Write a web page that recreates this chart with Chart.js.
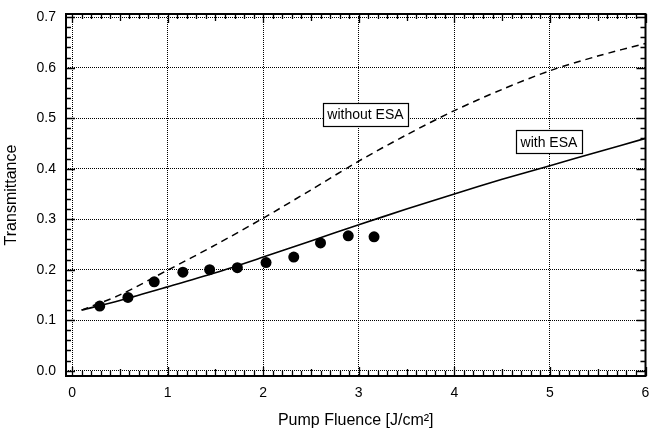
<!DOCTYPE html>
<html>
<head>
<meta charset="utf-8">
<script src="https://cdn.jsdelivr.net/npm/chart.js@4/dist/chart.umd.min.js"></script>
<style>
  html, body { margin: 0; padding: 0; background: #fff; }
  #wrap { width: 651px; height: 433px; }
</style>
</head>
<body>
<div id="wrap"><canvas id="fluenceChart" width="651" height="433"></canvas></div>
<script>
// measured transmittance
var measFluence = [0.29, 0.585, 0.86, 1.16, 1.44, 1.73, 2.03, 2.32, 2.60, 2.89, 3.16];
var measTrans = [0.128, 0.145, 0.176, 0.195, 0.200, 0.204, 0.214, 0.225, 0.253, 0.267, 0.265];

// model curves
var modelFluence = [0.1, 0.5, 1.0, 1.5, 2.0, 2.5, 3.0, 3.5, 4.0, 4.5, 5.0, 5.5, 6.0];
var withESA = [0.120, 0.139, 0.166, 0.194, 0.225, 0.257, 0.289, 0.320, 0.350, 0.379, 0.406, 0.433, 0.460];
var withoutESA = [0.120, 0.150, 0.199, 0.249, 0.302, 0.358, 0.415, 0.467, 0.515, 0.557, 0.594, 0.623, 0.648];

// axis ticks
var xTicks = [0, 1, 2, 3, 4, 5, 6];
var yTicks = [0.0, 0.1, 0.2, 0.3, 0.4, 0.5, 0.6, 0.7];

// boxed curve labels
var labelTexts = ["without ESA", "with ESA"];
var labelX = [3.07, 4.99];
var labelY = [0.508, 0.4535];

var FONT = "'Liberation Sans', Arial, Helvetica, sans-serif";

function toPoints(xs, ys) {
	return xs.map(function(x, i) { return {x: x, y: ys[i]}; });
}

// frame with inward tick marks on all four sides
var framePlugin = {
	id: "frame",
	afterDraw: function(chart) {
		var ctx = chart.ctx;
		var a = chart.chartArea;
		var xs = chart.scales.x;
		var ys = chart.scales.y;
		ctx.save();
		ctx.strokeStyle = "#000";
		ctx.lineWidth = 1.3;
		ctx.beginPath();
		for (var i = 0; i <= 60; i++) {
			var px = Math.round(xs.getPixelForValue(i / 10)) + 0.5;
			var len = (i % 10 === 0) ? 9 : ((i % 5 === 0) ? 7 : 5);
			ctx.moveTo(px, a.bottom); ctx.lineTo(px, a.bottom - len);
			ctx.moveTo(px, a.top); ctx.lineTo(px, a.top + len);
		}
		for (var j = 0; j <= 35; j++) {
			var py = Math.round(ys.getPixelForValue(j / 50)) + 0.5;
			var ylen = (j % 5 === 0) ? 9 : 5;
			ctx.moveTo(a.left, py); ctx.lineTo(a.left + ylen, py);
			ctx.moveTo(a.right, py); ctx.lineTo(a.right - ylen, py);
		}
		ctx.stroke();
		ctx.lineWidth = 2;
		ctx.strokeRect(a.left, a.top, a.right - a.left, a.bottom - a.top);
		ctx.restore();
	}
};

var labelPlugin = {
	id: "boxLabels",
	afterDatasetsDraw: function(chart) {
		var ctx = chart.ctx;
		ctx.save();
		ctx.font = "14px " + FONT;
		ctx.textAlign = "center";
		ctx.textBaseline = "middle";
		for (var i = 0; i < labelTexts.length; i++) {
			var cx = chart.scales.x.getPixelForValue(labelX[i]);
			var cy = chart.scales.y.getPixelForValue(labelY[i]);
			var w = ctx.measureText(labelTexts[i]).width + 9;
			var h = 23;
			ctx.fillStyle = "#fff";
			ctx.fillRect(cx - w / 2, cy - h / 2, w, h);
			ctx.strokeStyle = "#000";
			ctx.lineWidth = 1.2;
			ctx.strokeRect(Math.round(cx - w / 2) + 0.5, Math.round(cy - h / 2) + 0.5, Math.round(w), h);
			ctx.fillStyle = "#000";
			ctx.fillText(labelTexts[i], cx, cy + 1);
		}
		ctx.restore();
	}
};

new Chart(document.getElementById("fluenceChart"), {
	type: "scatter",
	data: {
		datasets: [
			{
				label: "without ESA",
				data: toPoints(modelFluence, withoutESA),
				showLine: true,
				borderColor: "#000",
				borderWidth: 1.5,
				borderDash: [7, 5],
				pointRadius: 0,
				tension: 0.3
			},
			{
				label: "with ESA",
				data: toPoints(modelFluence, withESA),
				showLine: true,
				borderColor: "#000",
				borderWidth: 1.6,
				pointRadius: 0,
				tension: 0.3
			},
			{
				label: "measured",
				data: toPoints(measFluence, measTrans),
				showLine: false,
				pointRadius: 5.5,
				pointBackgroundColor: "#000",
				pointBorderColor: "#000",
				pointBorderWidth: 0
			}
		]
	},
	options: {
		responsive: false,
		animation: false,
		layout: { padding: { top: 14, right: 5, left: 0, bottom: 0 } },
		plugins: {
			legend: { display: false },
			tooltip: { enabled: false }
		},
		scales: {
			x: {
				type: "linear",
				min: -0.063,
				max: 6,
				afterBuildTicks: function(scale) {
					scale.ticks = xTicks.map(function(v) { return {value: v}; });
				},
				afterFit: function(scale) {
					scale.height = 57;
					scale.paddingLeft = 0;
					scale.paddingRight = 0;
				},
				grid: { color: "#000", lineWidth: 1, drawTicks: false },
				border: { display: false, dash: [1, 1] },
				ticks: {
					color: "#000",
					padding: 9,
					maxRotation: 0,
					font: { family: FONT, size: 14 },
					callback: function(v) { return String(v); }
				},
				title: {
					display: true,
					text: "Pump Fluence [J/cm\u00B2]",
					color: "#000",
					font: { family: FONT, size: 16 },
					padding: { top: 0, bottom: 3 }
				}
			},
			y: {
				type: "linear",
				min: -0.0105,
				max: 0.7063,
				afterBuildTicks: function(scale) {
					scale.ticks = yTicks.map(function(v) { return {value: v}; });
				},
				afterFit: function(scale) {
					scale.width = 66;
					scale.paddingTop = 0;
					scale.paddingBottom = 0;
				},
				grid: { color: "#000", lineWidth: 1, drawTicks: false },
				border: { display: false, dash: [1, 1] },
				ticks: {
					color: "#000",
					padding: 10,
					font: { family: FONT, size: 14 },
					callback: function(v) { return Number(v).toFixed(1); }
				},
				title: {
					display: true,
					text: "Transmittance",
					color: "#000",
					font: { family: FONT, size: 16 },
					padding: { top: 2, bottom: 0 }
				}
			}
		}
	},
	plugins: [labelPlugin, framePlugin]
});
</script>
</body>
</html>
